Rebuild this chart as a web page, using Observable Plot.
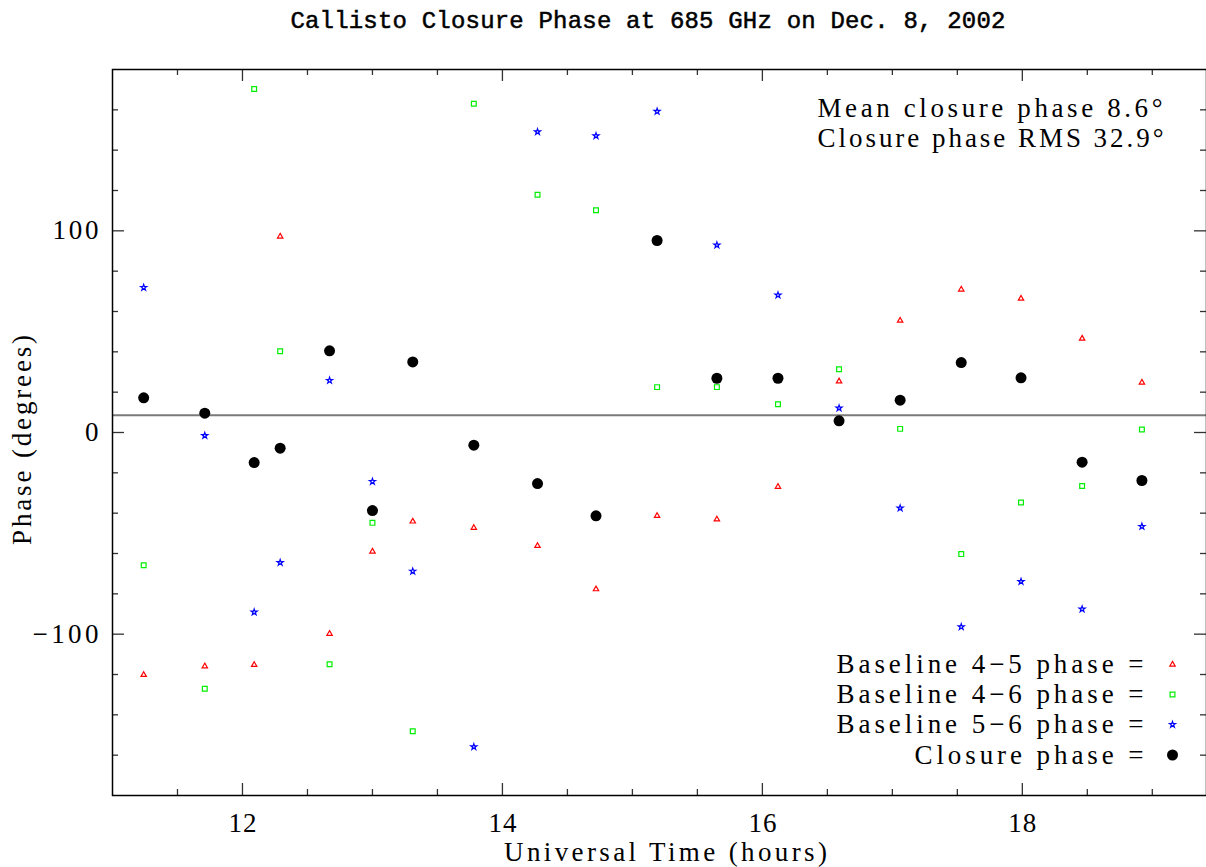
<!DOCTYPE html>
<html><head><meta charset="utf-8">
<script src="https://cdn.jsdelivr.net/npm/d3@7"></script>
<script src="https://cdn.jsdelivr.net/npm/@observablehq/plot@0.6"></script>
<style>
html,body{margin:0;padding:0;background:#fff;overflow:hidden}
#title{height:45px;line-height:44px;padding-left:90px;text-align:center;font-family:"Liberation Mono",monospace;font-size:24px;color:#000;white-space:nowrap;-webkit-text-stroke:0.5px #000}
#chart svg{display:block}
</style></head><body>
<div id="title"><span id="tspan">Callisto Closure Phase at 685 GHz on Dec. 8, 2002</span></div>
<div id="chart"></div>
<script>
// ---- data ----
const times   = [11.24, 11.71, 12.09, 12.29, 12.67, 13.00, 13.31, 13.78, 14.27, 14.72, 15.19, 15.65, 16.12, 16.59, 17.06, 17.53, 17.99, 18.46, 18.92];
const phase45 = [-120.2, -115.9, -115.2, 97.2, -99.8, -59.0, -44.1, -47.3, -56.2, -77.7, -41.3, -43.1, -26.9, 25.4, 55.5, 70.9, 66.4, 46.6, 24.8];
const phase46 = [-65.8, -127.1, 170.3, 40.3, -114.9, -44.8, -148.1, 163.0, 117.9, 110.2, 22.5, 22.5, 14.0, 31.4, 1.8, -60.3, -34.7, -26.5, 1.5];
const phase56 = [71.9, -1.5, -89.1, -64.5, 25.8, -24.3, -68.8, -155.9, 149.1, 147.1, 159.2, 92.9, 68.1, 12.1, -37.5, -96.4, -73.9, -87.6, -46.6];
const closure = [17.2, 9.6, -14.9, -7.8, 40.5, -38.7, 35.0, -6.3, -25.3, -41.3, 95.2, 26.9, 26.9, 5.8, 16.0, 34.7, 27.1, -14.7, -23.8];
const meanClosure = 8.6;
const rmsClosure = 32.9;

const xMajor = [12, 14, 16, 18];
const xMajorLabels = ["12", "14", "16", "18"];
const xMinor = [11.5, 12.5, 13, 13.5, 14.5, 15, 15.5, 16.5, 17, 17.5, 18.5, 19];
const yMajor = [-100, 0, 100];
const yMajorLabels = ["\u2212100", "0", "100"];
const yMinor = [-160, -140, -120, -80, -60, -40, -20, 20, 40, 60, 80, 120, 140, 160];

const legendLabels = ["Baseline 4\u22125 phase =", "Baseline 4\u22126 phase =", "Baseline 5\u22126 phase =", "Closure phase ="];
const titleText = "Callisto Closure Phase at 685 GHz on Dec. 8, 2002";
const xLabel = "Universal Time (hours)";
const yLabel = "Phase (degrees)";

// ---- layout ----
const W = 1206, H = 822;
const mL = 112, mR = 0, mT = 24, mB = 72;
const frameW = W - mL - mR, frameH = H - mT - mB;
const font = "Liberation Serif";

const rows = times.map((t, i) => ({t, p45: phase45[i], p46: phase46[i], p56: phase56[i], cl: closure[i]}));

const tickCol = "#333";
const majLen = 12, minLen = 6;

const annot1 = `Mean closure phase ${meanClosure}\u00b0`;
const annot2 = `Closure phase RMS ${rmsClosure}\u00b0`;

const legendDy = [-131, -101, -71, -40.5];
const sym = [
  {symbol: "triangle", r: 2, stroke: "#ff0000", fill: "none"},
  {symbol: "square", r: 2.7, stroke: "#00ee00", fill: "none"},
  {symbol: "star", r: 1.9, stroke: "#0000ff", fill: "none"},
  {symbol: "circle", r: 5.5, stroke: "none", fill: "#000"}
];
const T = {fontSize: 27, lineAnchor: "middle"};

const marks = [
  Plot.ruleY([meanClosure], {stroke: "#7a7a7a", strokeWidth: 2}),
  // ticks, inward on all four sides
  Plot.ruleX(xMajor, {insetTop: frameH - majLen, stroke: tickCol, strokeWidth: 1.3}),
  Plot.ruleX(xMajor, {insetBottom: frameH - majLen, stroke: tickCol, strokeWidth: 1.3}),
  Plot.ruleX(xMinor, {insetTop: frameH - minLen, stroke: tickCol, strokeWidth: 1.3}),
  Plot.ruleX(xMinor, {insetBottom: frameH - minLen, stroke: tickCol, strokeWidth: 1.3}),
  Plot.ruleY(yMajor, {insetRight: frameW - majLen, stroke: tickCol, strokeWidth: 1.3}),
  Plot.ruleY(yMajor, {insetLeft: frameW - majLen, stroke: tickCol, strokeWidth: 1.3}),
  Plot.ruleY(yMinor, {insetRight: frameW - minLen, stroke: tickCol, strokeWidth: 1.3}),
  Plot.ruleY(yMinor, {insetLeft: frameW - minLen, stroke: tickCol, strokeWidth: 1.3}),
  // data
  Plot.dot(rows, {x: "t", y: "p45", ...sym[0], strokeWidth: 1.2}),
  Plot.dot(rows, {x: "t", y: "p46", ...sym[1], strokeWidth: 1.2}),
  Plot.dot(rows, {x: "t", y: "p56", ...sym[2], strokeWidth: 1.2}),
  Plot.dot(rows, {x: "t", y: "cl", ...sym[3]}),
  Plot.frame({stroke: "#000", strokeWidth: 1.5}),
  // tick labels
  Plot.text(xMajor, {x: d => d, text: (d, i) => xMajorLabels[i], frameAnchor: "bottom", textAnchor: "middle", dy: 28, ...T}),
  Plot.text(yMajor, {y: d => d, text: (d, i) => yMajorLabels[i], frameAnchor: "left", dx: -14, textAnchor: "end", ...T}),
  // axis labels
  Plot.text([xLabel], {text: d => d, frameAnchor: "bottom", textAnchor: "middle", dx: 6, dy: 57, ...T}),
  Plot.text([yLabel], {text: d => d, frameAnchor: "left", textAnchor: "middle", dx: -90, dy: 6, rotate: -90, ...T}),
  // annotations
  Plot.text([annot1], {text: d => d, frameAnchor: "top-right", textAnchor: "start", dx: -389, dy: 39, ...T}),
  Plot.text([annot2], {text: d => d, frameAnchor: "top-right", textAnchor: "start", dx: -389, dy: 69, ...T})
];
// legend
legendLabels.forEach((lab, i) => {
  marks.push(Plot.text([lab], {text: d => d, frameAnchor: "bottom-right", textAnchor: "end", dx: -63, dy: legendDy[i], ...T}));
  marks.push(Plot.dot([lab], {frameAnchor: "bottom-right", dx: -34, dy: legendDy[i], ...sym[i], strokeWidth: 1.2}));
});

const chart = Plot.plot({
  width: W, height: H,
  marginLeft: mL, marginRight: mR, marginTop: mT, marginBottom: mB,
  x: {domain: [11, 19.417], axis: null},
  y: {domain: [-180, 180], axis: null},
  style: {fontFamily: font, background: "#fff", color: "#000", overflow: "visible"},
  marks
});
document.getElementById("chart").appendChild(chart);

// stretch texts to the reference's wide letter spacing
const lengths = new Map([
  [annot1, 345], [annot2, 346],
  [legendLabels[0], 307], [legendLabels[1], 307], [legendLabels[2], 307], [legendLabels[3], 229],
  [xLabel, 323],
  ["\u2212100", 66], ["100", 46], ["12", 28], ["14", 28], ["16", 28], ["18", 28]
]);
chart.querySelectorAll("text").forEach(t => {
  const L = lengths.get(t.textContent);
  if (L) { t.setAttribute("textLength", L); t.setAttribute("lengthAdjust", "spacing"); }
  if (t.textContent === yLabel) {
    const n = t.getComputedTextLength();
    const ls = (210 - n) / (yLabel.length - 1);
    t.style.letterSpacing = ls + "px";
  }
});

// title spacing
const span = document.getElementById("tspan");
const w0 = span.getBoundingClientRect().width;
span.style.letterSpacing = ((715 - w0) / (titleText.length - 1)) + "px";
</script>
</body></html>
